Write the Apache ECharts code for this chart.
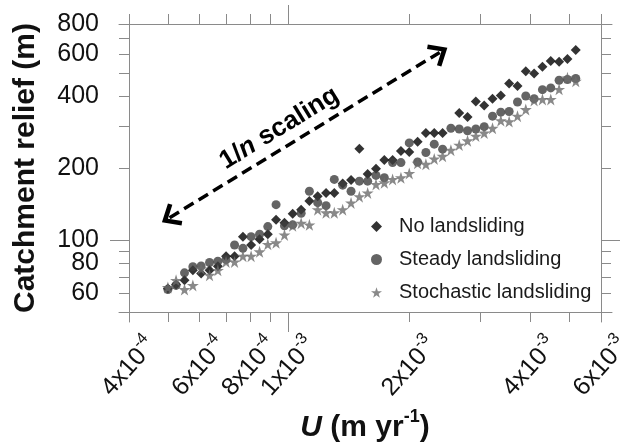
<!DOCTYPE html>
<html>
<head>
<meta charset="utf-8">
<script src="https://cdn.jsdelivr.net/npm/echarts@6/dist/echarts.min.js"></script>
<style>
  html, body { margin: 0; padding: 0; background: #ffffff; }
  #chart { width: 631px; height: 445px; }
</style>
</head>
<body>
<div id="chart"></div>
<script>
// Uplift rate U (m/yr) of each model run
const upliftRate = [
  5.00e-4, 5.24e-4, 5.50e-4, 5.77e-4, 6.05e-4, 6.35e-4, 6.66e-4, 6.98e-4, 7.33e-4, 7.69e-4,
  8.06e-4, 8.46e-4, 8.87e-4, 9.30e-4, 9.76e-4, 1.023e-3, 1.074e-3, 1.126e-3, 1.181e-3, 1.239e-3,
  1.299e-3, 1.363e-3, 1.430e-3, 1.500e-3, 1.573e-3, 1.650e-3, 1.731e-3, 1.815e-3, 1.904e-3, 1.997e-3,
  2.095e-3, 2.197e-3, 2.305e-3, 2.418e-3, 2.536e-3, 2.660e-3, 2.790e-3, 2.926e-3, 3.070e-3, 3.220e-3,
  3.377e-3, 3.542e-3, 3.716e-3, 3.897e-3, 4.088e-3, 4.288e-3, 4.498e-3, 4.718e-3, 4.949e-3, 5.191e-3
];

// Catchment relief (m) for each scenario
const noLandsliding = [
  62.7, 65.2, 67.8, 74.7, 72.4, 74.7, 77.7, 85.6, 85.6, 103.3,
  95.3, 100.7, 105.7, 121.4, 118, 128.7, 133.9, 145.4, 152.3, 157.4,
  157.4, 172.3, 178, 240.9, 189, 198.7, 216.1, 216.1, 235.8, 233.5,
  257.3, 280.1, 280, 280, null, 340, 327, 379.6, 365, 389.7,
  402.4, 450.8, 440.9, 508, 496.8, 530.2, 559.8, 556.6, 570.8, 622.9
];
const steadyLandsliding = [
  62.1, 64.6, 72.9, 77.3, 77.9, 80.5, 81.5, 82.9, 95.3, 92.3,
  103.3, 105.7, 113.8, 140.5, 114.6, 115.7, 129.4, 159.9, 143.3, 139.2,
  179.2, 169.5, 159.9, 176.2, 176.2, 186.2, 182.1, 210.7, 210.7, 254.6,
  212, 232.1, 251.6, 239.7, 293.2, 291.2, 286.4, 291.2, 297.8, 329.4,
  342.4, 344.4, 377.4, 400, 389.7, 425.3, 432.4, 465.5, 468.7, 473.3
];
const stochasticLandsliding = [
  63.3, 67.8, 62.1, 64.6, 75.8, 71.2, 74.7, 81, 81, 85.6,
  85.6, 89.3, 95.9, 97.4, 105, 114.6, 117.6, 115.7, 133.9, 130,
  130, 133.9, 142.9, 151.8, 157.4, 170.7, 173.5, 179.2, 182.1, 189.9,
  209.3, 207.3, 218.2, 224, 237.4, 249.3, 259.9, 272, 280.1, 293.2,
  315.6, 312.6, 329.4, 351.2, 383.3, 387.1, 387.1, 426.6, 476.5, 461
];

const seriesNames = ['No landsliding', 'Steady landsliding', 'Stochastic landsliding'];

// Axis ticks and labels
const xTickValues = [4e-4, 5e-4, 6e-4, 7e-4, 8e-4, 9e-4, 1e-3, 2e-3, 3e-3, 4e-3, 5e-3, 6e-3];
const xLabelValues = [4e-4, 6e-4, 8e-4, 1e-3, 2e-3, 4e-3, 6e-3];
const xMajorTicks = [1e-3];
const yTickValues = [50, 60, 70, 80, 90, 100, 200, 300, 400, 500, 600, 700, 800];
const yLabelValues = [60, 80, 100, 200, 400, 600, 800];
const yMajorTicks = [100];
const xRange = [4e-4, 6e-3];
const yRange = [50, 800];

// Ends of the "1/n scaling" arrow, in data units [U, relief]
const scalingArrowStart = [5.05e-4, 124];
const scalingArrowEnd = [2.378e-3, 608.7];

const FONT = '"Liberation Sans", Arial, sans-serif';
const GRAY = '#8a8a8a';
const STAR = 'path://M0,-10 L2.245,-3.09 L9.51,-3.09 L3.633,1.18 L5.878,8.09 L0,3.82 L-5.878,8.09 L-3.633,1.18 L-9.51,-3.09 L-2.245,-3.09 Z';
const CHEVRON = 'path://M0,0 L13,15 L9.5,18 L0,7 L-9.5,18 L-13,15 Z';

function pairs(values) {
  const out = [];
  values.forEach((v, i) => { if (v != null) out.push([upliftRate[i], v]); });
  return out;
}

function sciLabel(v) {
  const e = Math.floor(Math.log10(v) + 1e-9);
  const m = Math.round(v / Math.pow(10, e));
  return '{m|' + m + 'x10}{e|' + e + '}';
}

function logX(extra) {
  return Object.assign({
    type: 'log', logBase: 10, min: xRange[0], max: xRange[1], gridIndex: 0,
    axisLine: { show: false }, splitLine: { show: false },
    axisLabel: { show: false }, axisTick: { show: false }
  }, extra);
}
function logY(extra) {
  return Object.assign({
    type: 'log', logBase: 10, min: yRange[0], max: yRange[1], gridIndex: 0,
    axisLine: { show: false }, splitLine: { show: false },
    axisLabel: { show: false }, axisTick: { show: false }
  }, extra);
}
function frameAxis(extra) {
  return Object.assign({
    type: 'value', min: 0, max: 1,
    axisLine: { show: true, onZero: false, lineStyle: { color: GRAY, width: 1 } },
    axisTick: { show: false }, axisLabel: { show: false }, splitLine: { show: false }
  }, extra);
}
function ticks(values, len) {
  return { show: true, customValues: values, length: len, inside: false, lineStyle: { color: GRAY, width: 1 } };
}
function gridBox(box) {
  return Object.assign({ containLabel: false, outerBoundsMode: 'none' }, box);
}

const chart = echarts.init(document.getElementById('chart'), null, { renderer: 'canvas' });

chart.setOption({
  animation: false,
  backgroundColor: '#ffffff',
  grid: [
    gridBox({ left: 129, right: 30, top: 24, bottom: 133 }),
    gridBox({ left: 119, right: 19, top: 24, bottom: 133 }),
    gridBox({ left: 129, right: 30, top: 15, bottom: 123 })
  ],
  xAxis: [
    logX({
      position: 'bottom',
      axisTick: ticks(xTickValues, 10),
      axisLabel: {
        show: true, customValues: xLabelValues, rotate: 48, margin: 55,
        align: 'center', verticalAlign: 'middle',
        formatter: sciLabel,
        rich: {
          m: { fontFamily: FONT, fontSize: 25, color: '#111', lineHeight: 34 },
          e: { fontFamily: FONT, fontSize: 16, color: '#111', lineHeight: 16, verticalAlign: 'top' }
        }
      },
      name: '{i|U}{b| (m yr}{s|-1}{b|)}',
      nameLocation: 'middle', nameGap: 95,
      nameTextStyle: {
        rich: {
          i: { fontFamily: FONT, fontSize: 30, fontWeight: 'bold', fontStyle: 'italic', color: '#111', lineHeight: 40 },
          b: { fontFamily: FONT, fontSize: 30, fontWeight: 'bold', color: '#111', lineHeight: 40 },
          s: { fontFamily: FONT, fontSize: 18, fontWeight: 'bold', color: '#111', lineHeight: 18, verticalAlign: 'top' }
        }
      }
    }),
    logX({ position: 'bottom', axisTick: ticks(xMajorTicks, 20) }),
    logX({ position: 'top', axisTick: ticks(xTickValues, 10) }),
    logX({ position: 'top', axisTick: ticks(xMajorTicks, 19) }),
    frameAxis({ gridIndex: 1, position: 'bottom' }),
    frameAxis({ gridIndex: 1, position: 'top' }),
    frameAxis({ gridIndex: 2, show: false })
  ],
  yAxis: [
    logY({
      position: 'left',
      axisTick: ticks(yTickValues, 10),
      axisLabel: {
        show: true, customValues: yLabelValues, margin: 30,
        fontFamily: FONT, fontSize: 25, color: '#111',
        formatter: v => String(Math.round(v))
      },
      name: 'Catchment relief (m)',
      nameLocation: 'middle', nameGap: 88,
      nameTextStyle: { fontFamily: FONT, fontSize: 30, fontWeight: 'bold', color: '#111' }
    }),
    logY({ position: 'left', axisTick: ticks(yMajorTicks, 19) }),
    logY({ position: 'right', axisTick: ticks(yTickValues, 10) }),
    logY({ position: 'right', axisTick: ticks(yMajorTicks, 19) }),
    frameAxis({ gridIndex: 1, show: false }),
    frameAxis({ gridIndex: 2, position: 'left' }),
    frameAxis({ gridIndex: 2, position: 'right' })
  ],
  legend: {
    data: seriesNames,
    orient: 'vertical',
    left: 366, top: 211,
    itemWidth: 11, itemHeight: 11, itemGap: 12,
    textStyle: { fontFamily: FONT, fontSize: 20, color: '#1a1a1a', padding: [0, 0, 0, 12], lineHeight: 21 }
  },
  series: [
    {
      name: seriesNames[0], type: 'scatter', xAxisIndex: 0, yAxisIndex: 0,
      symbol: 'diamond', symbolSize: 10,
      itemStyle: { color: '#000000' },
      data: pairs(noLandsliding)
    },
    {
      name: seriesNames[1], type: 'scatter', xAxisIndex: 0, yAxisIndex: 0,
      symbol: 'circle', symbolSize: 9,
      itemStyle: { color: '#3d3d3d' },
      data: pairs(steadyLandsliding)
    },
    {
      name: seriesNames[2], type: 'scatter', xAxisIndex: 0, yAxisIndex: 0,
      symbol: STAR, symbolSize: 12,
      itemStyle: { color: '#6c6c6c' },
      data: pairs(stochasticLandsliding),
      markLine: {
        silent: true,
        symbol: [CHEVRON, CHEVRON],
        symbolSize: [26, 18],
        lineStyle: { color: '#000000', width: 3.5, type: [11, 6] },
        label: {
          show: true, position: 'insideMiddleTop', distance: 6,
          padding: [0, 36, 0, 0],
          formatter: '{a|1/}{n|n}{a| scaling}',
          rich: {
            a: { fontFamily: FONT, fontSize: 26, fontWeight: 'bold', color: '#000' },
            n: { fontFamily: FONT, fontSize: 26, fontWeight: 'bold', fontStyle: 'italic', color: '#000' }
          }
        },
        data: [[{ coord: scalingArrowStart }, { coord: scalingArrowEnd }]]
      }
    }
  ]
});
</script>
</body>
</html>
